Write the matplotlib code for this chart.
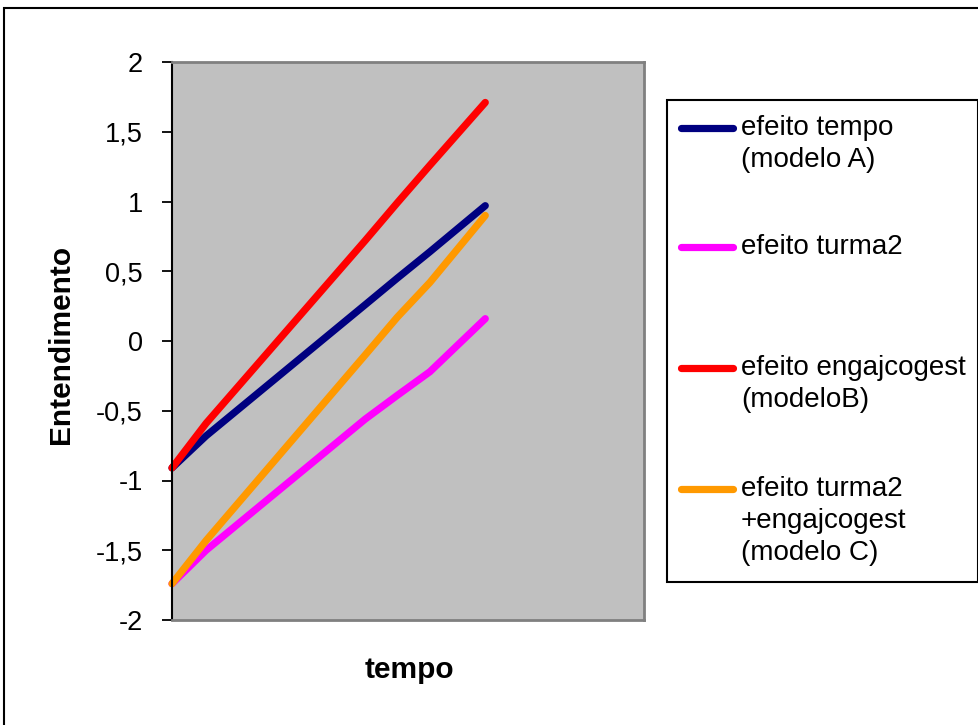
import matplotlib
matplotlib.use("Agg")
import matplotlib.pyplot as plt
from matplotlib.lines import Line2D
from matplotlib.patches import Rectangle

plt.rcParams['font.family'] = ['Liberation Sans', 'DejaVu Sans']

# time points (tempo) and fitted understanding curves for each model
tempo = [0.0, 0.98, 5.55, 6.47, 7.41, 9.0]
efeito_tempo = [-0.91, -0.68, 0.26, 0.45, 0.64, 0.97]
efeito_turma2 = [-1.74, -1.50, -0.56, -0.39, -0.22, 0.16]
efeito_engaj = [-0.91, -0.59, 0.72, 0.99, 1.26, 1.71]
efeito_turma2_engaj = [-1.74, -1.43, -0.10, 0.17, 0.42, 0.90]

series_labels = [
    "efeito tempo\n(modelo A)",
    "efeito turma2",
    "efeito engajcogest\n(modeloB)",
    "efeito turma2\n+engajcogest\n(modelo C)",
]
series_colors = ["#000080", "#FF00FF", "#FF0000", "#FF9900"]
series_values = [efeito_tempo, efeito_turma2, efeito_engaj, efeito_turma2_engaj]

ytick_values = [2, 1.5, 1, 0.5, 0, -0.5, -1, -1.5, -2]
ytick_labels = ["2", "1,5", "1", "0,5", "0", "-0,5", "-1", "-1,5", "-2"]

W, H = 979, 725
fig = plt.figure(figsize=(W / 100, H / 100), dpi=100)
fig.patch.set_facecolor("white")

# outer chart border (extends past the canvas on right and bottom)
fig.patches.append(Rectangle((4 / W, -0.05), 1.2, 1 - 8 / H + 0.05,
                             transform=fig.transFigure, fill=False,
                             edgecolor="black", linewidth=1.5))

left, right, top, bottom = 172, 644, 62, 620
ax = fig.add_axes([left / W, 1 - bottom / H, (right - left) / W, (bottom - top) / H])
ax.set_facecolor("#C0C0C0")

for vals, col in zip(series_values, series_colors):
    ax.plot(tempo, vals, color=col, linewidth=5.2, solid_capstyle="round",
            solid_joinstyle="round", clip_on=False)

ax.set_xlim(0, 13.56)
ax.set_ylim(-2, 2)
ax.set_yticks(ytick_values)
ax.set_yticklabels(ytick_labels)
ax.tick_params(axis="y", direction="out", length=7.5, width=1.3, pad=13.5,
               labelsize=19.5, colors="black")
ax.set_xticks([])

for side in ("top", "bottom", "right"):
    ax.spines[side].set_color("#808080")
    ax.spines[side].set_linewidth(2)
ax.spines["left"].set_color("black")
ax.spines["left"].set_linewidth(1.5)

fig.text(61 / W, 1 - 344 / H, "Entendimento", rotation=90, ha="center",
         va="center", fontsize=21.5, fontweight="bold")
fig.text(409 / W, 1 - 670 / H, "tempo", ha="center", va="center",
         fontsize=21.5, fontweight="bold")

# legend box
lx0, ly0, lx1, ly1 = 667, 100, 978, 582
fig.patches.append(Rectangle((lx0 / W, 1 - ly1 / H), (lx1 - lx0) / W, (ly1 - ly0) / H,
                             transform=fig.transFigure, facecolor="white",
                             edgecolor="black", linewidth=1.5))
entry_y = [128, 247, 368, 489]
for yy, lab, col in zip(entry_y, series_labels, series_colors):
    fig.lines.append(Line2D([681 / W, 733 / W], [1 - yy / H, 1 - yy / H],
                            transform=fig.transFigure, color=col,
                            linewidth=5.2, solid_capstyle="round"))
    fig.text(741 / W, 1 - (yy - 13) / H, lab, ha="left", va="top",
             fontsize=20, linespacing=1.3)

fig.savefig("out.png", dpi=100)
